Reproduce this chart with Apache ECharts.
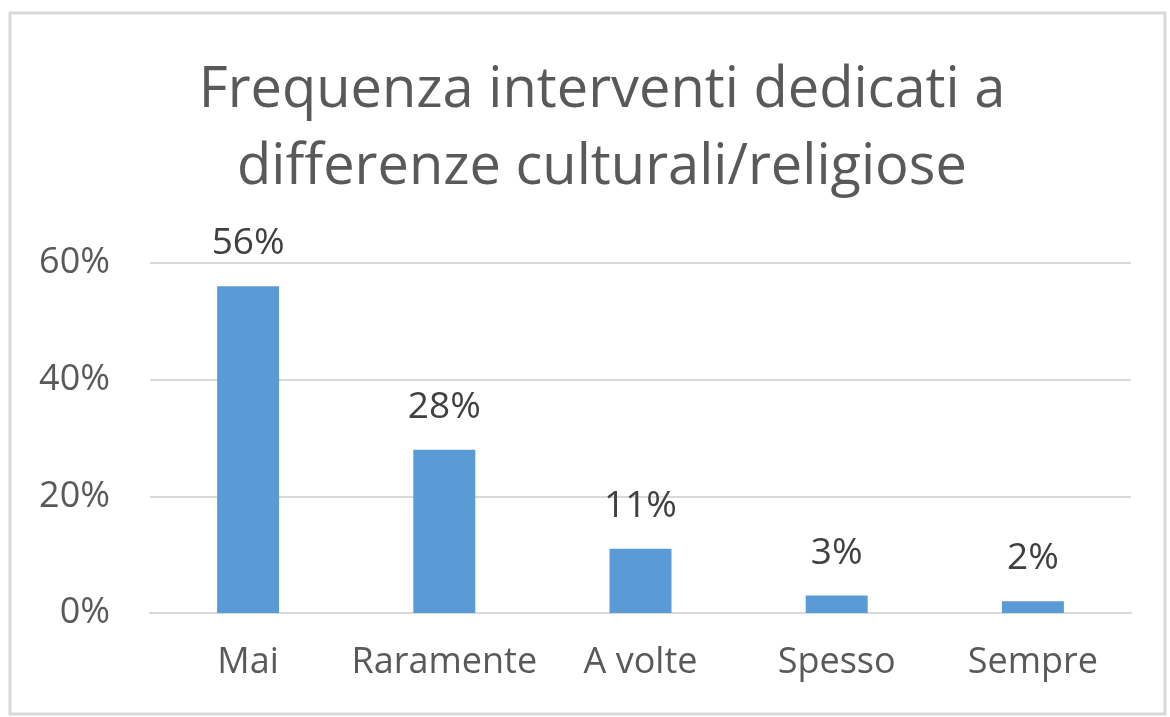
<!DOCTYPE html>
<html>
<head>
<meta charset="utf-8">
<script src="https://cdn.jsdelivr.net/npm/echarts@6/dist/echarts.min.js"></script>
<style>
html,body{margin:0;padding:0;background:#fff;}
#chart{width:1170px;height:717px;}
</style>
</head>
<body>
<div id="chart"></div>
<script>
const titleText = "Frequenza interventi dedicati a\ndifferenze culturali/religiose";
const categories = ["Mai", "Raramente", "A volte", "Spesso", "Sempre"];
const values = [56, 28, 11, 3, 2];
const yTicks = [0, 20, 40, 60];

const chart = echarts.init(document.getElementById('chart'));
const font = "'Open Sans', 'Noto Sans', sans-serif";
chart.setOption({
  animation: false,
  backgroundColor: '#ffffff',
  graphic: [{
    type: 'rect',
    shape: {x: 10, y: 13, width: 1155, height: 701},
    style: {fill: 'none', stroke: '#d9d9d9', lineWidth: 3},
    silent: true
  }],
  title: {
    text: titleText,
    left: 597,
    textAlign: 'center',
    top: 48,
    textStyle: {
      fontFamily: font,
      fontSize: 56,
      fontWeight: 'normal',
      color: '#595959',
      lineHeight: 77
    }
  },
  grid: {left: 150, right: 39, top: 263, bottom: 104},
  xAxis: {
    type: 'category',
    data: categories,
    axisLine: {lineStyle: {color: '#d9d9d9', width: 2}},
    axisTick: {show: false},
    axisLabel: {fontFamily: font, fontSize: 36, color: '#595959', margin: 32, interval: 0}
  },
  yAxis: {
    type: 'value',
    min: yTicks[0],
    max: yTicks[yTicks.length - 1],
    interval: 20,
    axisLine: {show: false},
    axisTick: {show: false},
    splitLine: {lineStyle: {color: '#d9d9d9', width: 2}},
    axisLabel: {fontFamily: font, fontSize: 36, color: '#595959', margin: 40, formatter: '{value}%'}
  },
  series: [{
    type: 'bar',
    data: values,
    barWidth: '31.6%',
    itemStyle: {color: '#5b9bd5'},
    label: {
      show: true,
      position: 'top',
      distance: 24,
      formatter: '{c}%',
      fontFamily: font,
      fontSize: 37,
      color: '#404040'
    }
  }]
});
</script>
</body>
</html>
